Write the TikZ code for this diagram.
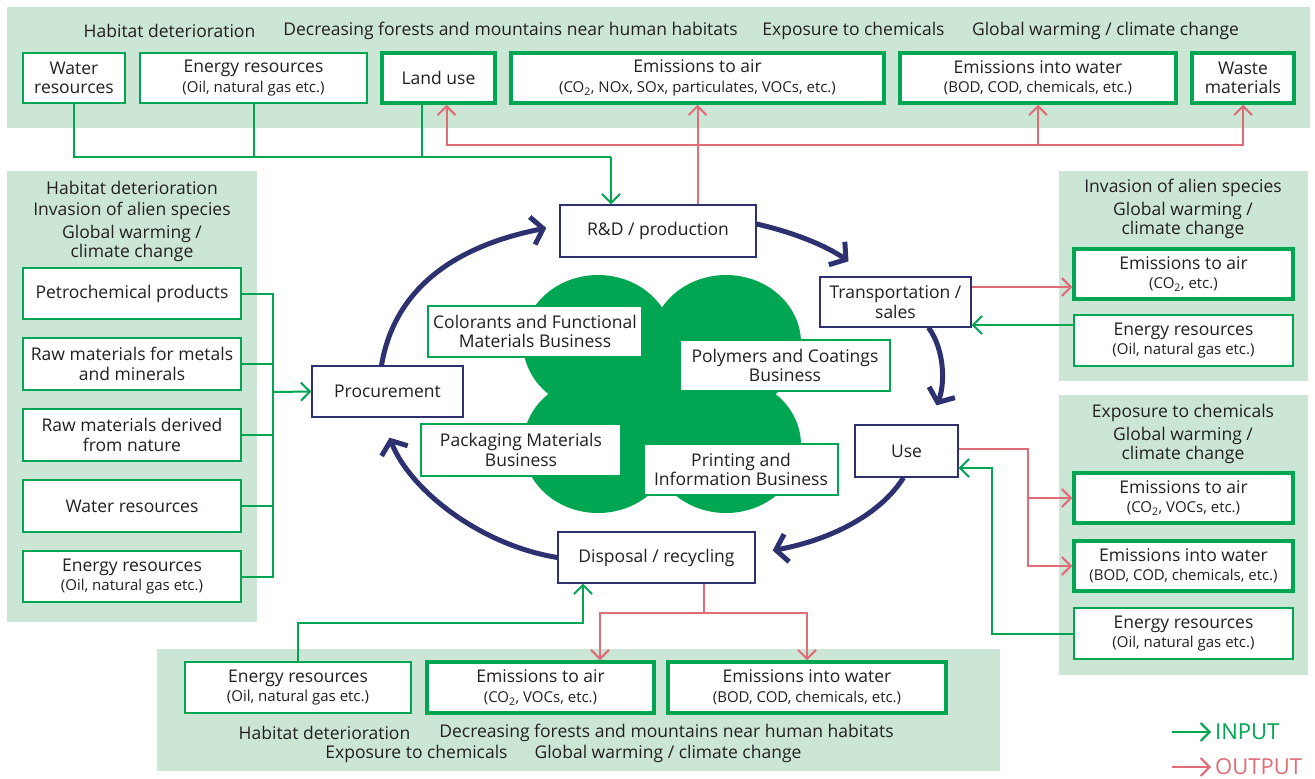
\documentclass[tikz,border=0pt]{standalone}
\usepackage{fontspec}
\setmainfont{Open Sans}
\usetikzlibrary{arrows.meta}
\definecolor{pbg}{RGB}{204,230,213}
\definecolor{gr}{RGB}{0,166,81}
\definecolor{rd}{RGB}{224,108,120}
\definecolor{navy}{RGB}{46,49,112}
\definecolor{txt}{RGB}{35,31,32}
\newcommand\smallnote[1]{{\fontsize{15}{17}\selectfont #1}}
\begin{document}
\begin{tikzpicture}[x=1pt,y=-1pt,
  font=\fontsize{17.5}{19.5}\selectfont,
  every node/.style={text=txt},
  panel/.style={fill=pbg,draw=none},
  gthin/.style={draw=gr,line width=1.5pt,fill=white,inner sep=0pt,align=center},
  gthick/.style={draw=gr,line width=3.5pt,fill=white,inner sep=0pt,align=center},
  cyc/.style={draw=navy,line width=1.3pt,fill=white,inner sep=0pt,align=center},
  biz/.style={draw=gr,line width=1.3pt,fill=white,inner sep=0pt,align=center},
  inl/.style={draw=gr,line width=2pt},
  outl/.style={draw=rd,line width=2pt},
  inarr/.style={inl,-{Straight Barb[length=9pt,width=18pt]}},
  outarr/.style={outl,-{Straight Barb[length=9pt,width=18pt]}},
  flow/.style={draw=navy,line width=5pt,-{Straight Barb[length=11pt,width=28pt]}},
  ttl/.style={font=\fontsize{17.5}{20}\selectfont,text=txt,inner sep=0pt},
  cloud/.style={fill=gr}
]
\useasboundingbox (0,0) rectangle (1315,779);
% panels
\fill[panel] (7,7) rectangle (1310,128);
\fill[panel] (7,171) rectangle (257,622);
\fill[panel] (1059,171) rectangle (1308,381);
\fill[panel] (1059,395) rectangle (1308,675);
\fill[panel] (157,649) rectangle (1000,771);
% cloud
\fill[cloud] (598,343) ellipse [x radius=75pt, y radius=68pt];
\fill[cloud] (726,343) ellipse [x radius=75pt, y radius=68pt];
\fill[cloud] (598,445) ellipse [x radius=75pt, y radius=68pt];
\fill[cloud] (726,445) ellipse [x radius=75pt, y radius=68pt];
\fill[cloud] (598,343) rectangle (726,445);
% titles top
\node[ttl] (tt1) at (169.5,31) {Habitat deterioration};
\node[ttl] (tt2) at (510.5,31) {Decreasing forests and mountains near human habitats};
\node[ttl] (tt3) at (853.5,31) {Exposure to chemicals};
\node[ttl] (tt4) at (1105.5,31) {Global warming / climate change};
% left titles
\node[ttl] (lt1) at (132,188) {Habitat deterioration};
\node[ttl] (lt2) at (132,211) {Invasion of alien species};
\node[ttl] (lt3) at (132,234) {Global warming /};
\node[ttl] (lt4) at (132,253) {climate change};
% right upper titles
\node[ttl] (ru1) at (1183,188) {Invasion of alien species};
\node[ttl] (ru2) at (1183,211) {Global warming /};
\node[ttl] (ru3) at (1183,230) {climate change};
% right lower titles
\node[ttl] (rl1) at (1183,413) {Exposure to chemicals};
\node[ttl] (rl2) at (1183,436) {Global warming /};
\node[ttl] (rl3) at (1183,455) {climate change};
% bottom titles
\node[ttl] (bt1) at (324.5,733) {Habitat deterioration};
\node[ttl] (bt2) at (666.5,733) {Decreasing forests and mountains near human habitats};
\node[ttl] (bt3) at (416.5,754) {Exposure to chemicals};
\node[ttl] (bt4) at (668,754) {Global warming / climate change};

% top boxes
\node[gthin,minimum width=102pt,minimum height=50pt] (tw) at (74,78) {Water\\resources};
\node[gthin,minimum width=227pt,minimum height=50pt] (te) at (253.5,78) {Energy resources\\\smallnote{(Oil, natural gas etc.)}};
\node[gthick,minimum width=113pt,minimum height=50pt] (tl) at (438.5,78) {Land use};
\node[gthick,minimum width=373pt,minimum height=50pt] (ta) at (697.5,78) {Emissions to air\\\smallnote{(CO\textsubscript{2}, NOx, SOx, particulates, VOCs, etc.)}};
\node[gthick,minimum width=276pt,minimum height=50pt] (tw2) at (1038,78) {Emissions into water\\\smallnote{(BOD, COD, chemicals, etc.)}};
\node[gthick,minimum width=102pt,minimum height=50pt] (tm) at (1243,78) {Waste\\materials};

% cycle boxes
\node[cyc,minimum width=196pt,minimum height=52pt] (rd) at (658,231) {R\&D / production};
\node[cyc,minimum width=151pt,minimum height=50pt] (tr) at (895.5,302) {Transportation /\\sales};
\node[cyc,minimum width=103pt,minimum height=52pt] (use) at (906.5,451) {Use};
\node[cyc,minimum width=197pt,minimum height=51pt] (dis) at (656.5,557.5) {Disposal / recycling};
\node[cyc,minimum width=151pt,minimum height=51pt] (proc) at (387.5,391.5) {Procurement};

% business boxes
\node[biz,minimum width=214pt,minimum height=51pt] (bc) at (535,331.5) {Colorants and Functional\\Materials Business};
\node[biz,minimum width=210pt,minimum height=51pt] (bp) at (785,365.5) {Polymers and Coatings\\Business};
\node[biz,minimum width=200pt,minimum height=52pt] (bk) at (521,450) {Packaging Materials\\Business};
\node[biz,minimum width=194pt,minimum height=51pt] (bi) at (741,469.5) {Printing and\\Information Business};

% left boxes
\node[gthin,minimum width=218pt,minimum height=51pt] (lp) at (132,293.5) {Petrochemical products};
\node[gthin,minimum width=218pt,minimum height=52pt] (lr) at (132,364) {Raw materials for metals\\and minerals};
\node[gthin,minimum width=218pt,minimum height=52pt] (ln) at (132,435) {Raw materials derived\\from nature};
\node[gthin,minimum width=218pt,minimum height=52pt] (lw) at (132,506) {Water resources};
\node[gthin,minimum width=218pt,minimum height=51pt] (le) at (132,576.5) {Energy resources\\\smallnote{(Oil, natural gas etc.)}};

% right upper boxes
\node[gthick,minimum width=219pt,minimum height=50pt] (ra) at (1183.5,274) {Emissions to air\\\smallnote{(CO\textsubscript{2}, etc.)}};
\node[gthin,minimum width=219pt,minimum height=51pt] (re) at (1183.5,340.5) {Energy resources\\\smallnote{(Oil, natural gas etc.)}};
% right lower boxes
\node[gthick,minimum width=219pt,minimum height=50pt] (rla) at (1183.5,498) {Emissions to air\\\smallnote{(CO\textsubscript{2}, VOCs, etc.)}};
\node[gthick,minimum width=219pt,minimum height=50pt] (rlw) at (1183.5,566) {Emissions into water\\\smallnote{(BOD, COD, chemicals, etc.)}};
\node[gthin,minimum width=219pt,minimum height=51pt] (rle) at (1183.5,633.5) {Energy resources\\\smallnote{(Oil, natural gas etc.)}};
% bottom boxes
\node[gthin,minimum width=226pt,minimum height=51pt] (be) at (298,687.5) {Energy resources\\\smallnote{(Oil, natural gas etc.)}};
\node[gthick,minimum width=227pt,minimum height=51pt] (ba) at (540.5,687.5) {Emissions to air\\\smallnote{(CO\textsubscript{2}, VOCs, etc.)}};
\node[gthick,minimum width=278pt,minimum height=51pt] (bw) at (807,687.5) {Emissions into water\\\smallnote{(BOD, COD, chemicals, etc.)}};

% top connectors
\coordinate (gj) at (611,157);
\draw[inl] (tw.south) |- (gj);
\draw[inl] (te.south) -- (te.south |- gj);
\draw[inl] ([xshift=-17pt]tl.south) -- ([xshift=-17pt]tl.south |- gj);
\draw[inarr] (gj) -- (rd.north -| gj);
\coordinate (rj) at (697,145);
\draw[outarr] (rd.north -| ta.south) -- (ta.south);
\draw[outarr] (rj) -| ([xshift=8pt]tl.south);
\draw[outarr] (rj) -| (tw2.south);
\draw[outarr] (rj) -| (tm.south);

% left connectors
\coordinate (lb) at (273,392);
\draw[inl] (lp.east) -| (lb);
\draw[inl] (le.east) -| (lb);
\draw[inl] (lr.east) -- (lr.east -| lb);
\draw[inl] (ln.east) -- (ln.east -| lb);
\draw[inl] (lw.east) -- (lw.east -| lb);
\draw[inarr] (lb) -- (proc.west);

% right upper connectors
\coordinate (ru) at (1000,287);
\coordinate (gu) at (1000,325);
\draw[outarr] (tr.east |- ru) -- (ra.west |- ru);
\draw[inarr] (re.west |- gu) -- (tr.east |- gu);

% right lower connectors
\coordinate (rlj) at (1028,449);
\draw[outarr] (use.east |- rlj) -- (rlj) |- (rlw.west);
\draw[outarr] (rlj |- rla.west) -- (rla.west);
\coordinate (glj) at (992,468);
\draw[inarr] (rle.west) -| (glj) -- (use.east |- glj);

% bottom connectors
\coordinate (bgj) at (583,623);
\draw[inarr] (be.north) |- (bgj) -- (dis.south -| bgj);
\coordinate (brj) at (704,613);
\draw[outl] (dis.south -| brj) -- (brj);
\draw[outarr] (brj) -| ([xshift=59.5pt]ba.north);
\draw[outarr] (brj) -| (bw.north);

% cycle arrows
\draw[flow] ([xshift=-6pt]proc.north) .. controls (395,285) and (460,245) .. ([xshift=-13pt,yshift=3pt]rd.west);
\draw[flow] ([yshift=7pt]rd.east) .. controls (792,232) and (825,245) .. ([xshift=-47pt,yshift=15pt]tr.north);
\draw[flow] ([xshift=33pt]tr.south) .. controls (945,350) and (945,385) .. ([xshift=30pt,yshift=19pt]use.north);
\draw[flow] ([xshift=-3pt]use.south) .. controls (880,515) and (830,540) .. ([xshift=17pt,yshift=7pt]dis.east);
\draw[flow] (dis.west) .. controls (480,545) and (410,490) .. ([xshift=2pt,yshift=-20pt]proc.south);

% legend
\node[anchor=west,text=gr,font=\fontsize{22}{26}\selectfont,inner sep=0pt] (lin) at (1215,732) {INPUT};
\node[anchor=west,text=rd,font=\fontsize{22}{26}\selectfont,inner sep=0pt] (lout) at (1215,767) {OUTPUT};
\coordinate (lins) at (1172,732);
\coordinate (louts) at (1172,767);
\draw[inarr] (lins) -- ([xshift=-4pt]lin.west);
\draw[outarr] (louts) -- ([xshift=-4pt]lout.west);
\end{tikzpicture}
\end{document}
